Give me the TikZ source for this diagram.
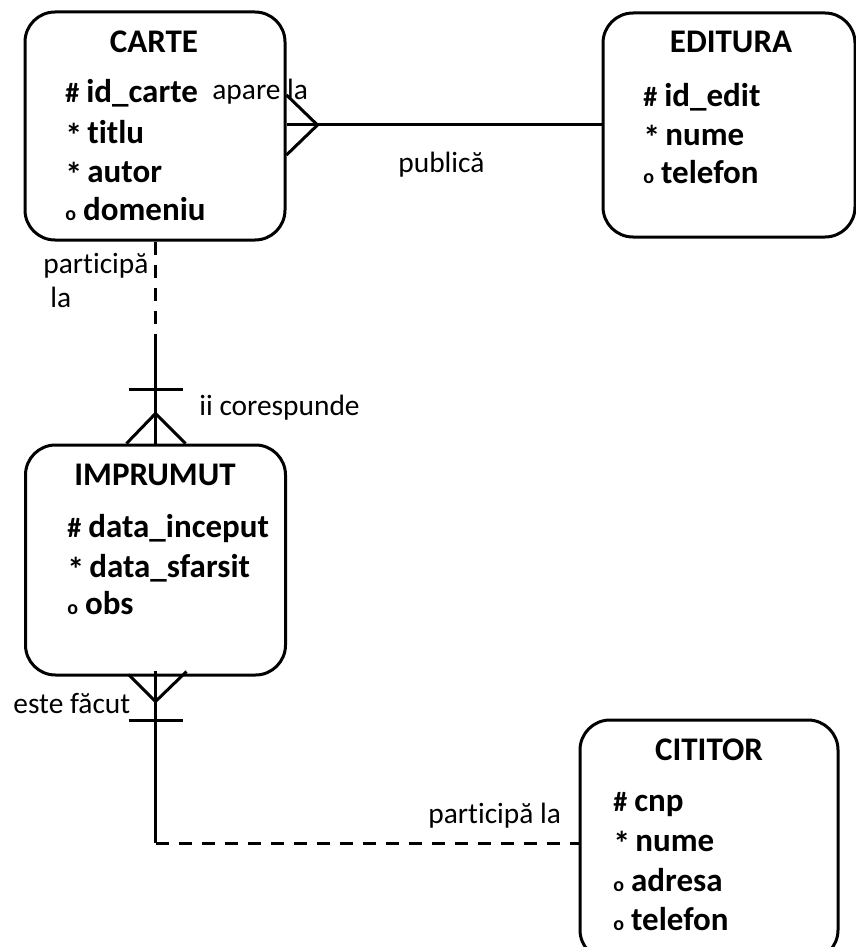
\documentclass[tikz,border=0pt]{standalone}
\usepackage{fontspec}
\setmainfont{Carlito}[Ligatures=NoCommon]
\usepackage{tikz}
\usetikzlibrary{calc}

\newcommand{\atrsimb}[2][14]{{\fontsize{#1}{#1}\selectfont #2}\hspace{3.5pt}}
\newcommand{\atrstea}{{\fontsize{17}{17}\selectfont\raisebox{-2pt}{*}}\hspace{2.5pt}}

\tikzset{
  entitate/.style={draw, line width=1.5pt, rounded corners=15pt, inner sep=0pt},
  titlu/.style={font=\fontsize{16.5}{19}\selectfont\bfseries, anchor=base, inner sep=0pt},
  atribut/.style={font=\fontsize{16.5}{19}\selectfont\bfseries, anchor=base west, inner sep=0pt},
  eticheta/.style={font=\fontsize{14.7}{17}\selectfont, anchor=base west, inner sep=0pt},
  legatura/.style={line width=1.5pt},
  optional/.style={line width=1.5pt, dash pattern=on 6.5pt off 5pt}
}

\begin{document}
\begin{tikzpicture}[x=0.5pt, y=-0.5pt]
    \useasboundingbox (0,0) rectangle (856,947);

    % entitati
    \node [entitate, minimum width=130pt, minimum height=114pt] (carte) at (155,126) {};
    \node [entitate, minimum width=126pt, minimum height=112pt] (editura) at (729,125) {};
    \node [entitate, minimum width=130pt, minimum height=115pt] (imprumut) at (155.5,560) {};
    \node [entitate, minimum width=129pt, minimum height=120pt] (cititor) at (709,840) {};

    % CARTE
    \node [titlu] (carteT) at (154,53) {CARTE};
    \node [atribut] (carteA1) at (65,103) {\atrsimb{\#}id\_carte};
    \node [atribut] (carteA2) at (65,143) {\atrstea titlu};
    \node [atribut] (carteA3) at (65,182) {\atrstea autor};
    \node [atribut] (carteA4) at (65,220) {\atrsimb[10]{o}domeniu};

    % EDITURA
    \node [titlu] (edituraT) at (731,53) {EDITURA};
    \node [atribut] (edituraA1) at (643,106) {\atrsimb{\#}id\_edit};
    \node [atribut] (edituraA2) at (643,145) {\atrstea nume};
    \node [atribut] (edituraA3) at (643,183) {\atrsimb[10]{o}telefon};

    % IMPRUMUT
    \node [titlu] (imprumutT) at (155,485) {IMPRUMUT};
    \node [atribut] (imprumutA1) at (67,537) {\atrsimb{\#}data\_inceput};
    \node [atribut] (imprumutA2) at (67,577) {\atrstea data\_sfarsit};
    \node [atribut] (imprumutA3) at (67,614) {\atrsimb[10]{o}obs};

    % CITITOR
    \node [titlu] (cititorT) at (709,760) {CITITOR};
    \node [atribut] (cititorA1) at (613,811) {\atrsimb{\#}cnp};
    \node [atribut] (cititorA2) at (613,851) {\atrstea nume};
    \node [atribut] (cititorA3) at (613,891) {\atrsimb[10]{o}adresa};
    \node [atribut] (cititorA4) at (613,930) {\atrsimb[10]{o}telefon};

    % CARTE -- EDITURA
    \coordinate (cf1) at (carte.east |- editura.west);
    \draw [legatura] (cf1) -- (editura.west);
    \draw [legatura] ([yshift=15pt]cf1) -- ([xshift=15.5pt]cf1) -- ([yshift=-15pt]cf1);
    \node [eticheta] (apare) at (212,100) {apare la};
    \node [eticheta] (publica) at (398,172) {publică};

    % CARTE -- IMPRUMUT
    \coordinate (m1) at ($(imprumut.north)+(0,51pt)$);
    \draw [optional] (carte.south -| m1) -- (m1);
    \draw [legatura] (m1) -- (imprumut.north);
    \draw [legatura] ([shift={(-13.5pt,27pt)}]imprumut.north) -- ([shift={(13.5pt,27pt)}]imprumut.north);
    \draw [legatura] ([xshift=-14.5pt]imprumut.north) -- ([yshift=15pt]imprumut.north) -- ([xshift=15pt]imprumut.north);
    \node [eticheta] (participa1) at (43,273) {participă};
    \node [eticheta] (participa1b) at (50,307) {la};
    \node [eticheta] (corespunde) at (199,415) {ii corespunde};

    % IMPRUMUT -- CITITOR
    \coordinate (colt) at (imprumut.south |- 0,843);
    \draw [legatura] ([yshift=3pt]imprumut.south) -- (colt);
    \draw [optional] (colt) -- (colt -| cititor.west);
    \draw [legatura] ([shift={(-13.5pt,-22pt)}]imprumut.south) -- ([shift={(13.5pt,-22pt)}]imprumut.south);
    \draw [legatura] ([shift={(-13.5pt,1pt)}]imprumut.south) -- ([yshift=-12.5pt]imprumut.south) -- ([shift={(15.5pt,2.5pt)}]imprumut.south);
    \node [eticheta] (facut) at (13,713) {este făcut};
    \node [eticheta] (participa2) at (428,823) {participă la};
\end{tikzpicture}
\end{document}
